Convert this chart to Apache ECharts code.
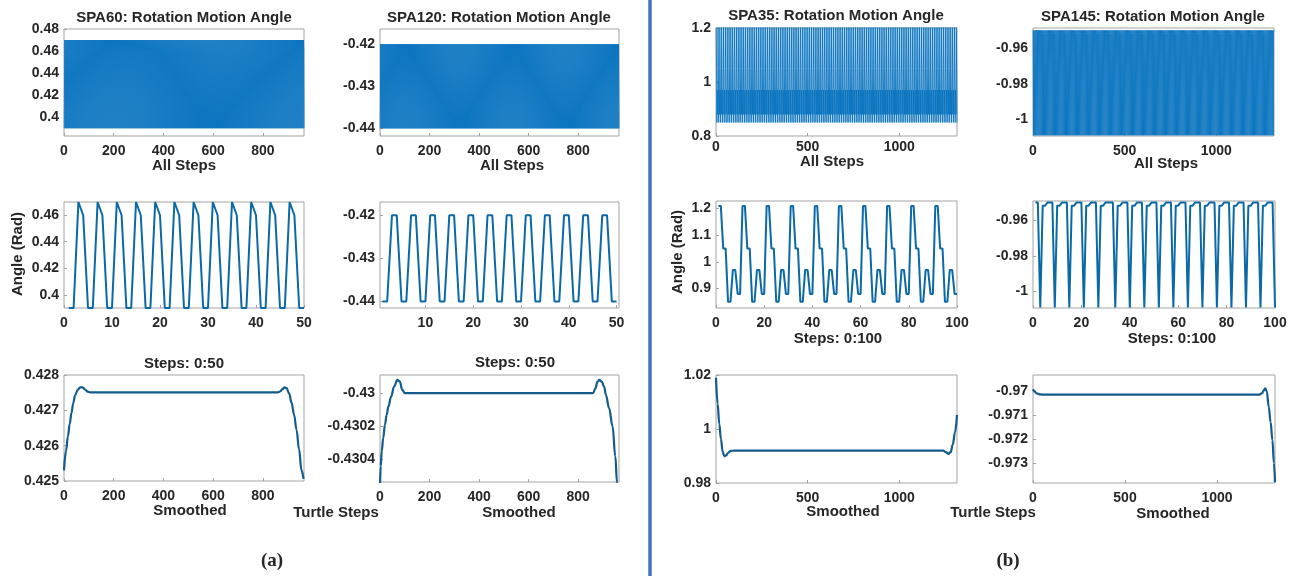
<!DOCTYPE html>
<html><head><meta charset="utf-8">
<script src="https://cdn.jsdelivr.net/npm/echarts@6/dist/echarts.min.js"></script>
<style>html,body{margin:0;padding:0;background:#fff}#c{width:1299px;height:576px}</style>
</head><body><div id="c"></div>
<script>
// ---------------- DATA ----------------
// one gait cycle of each joint angle (read from the zoomed step windows)
const spa60Cycle  = [0.39, 0.39, 0.47, 0.46];
const spa120Cycle = [-0.44, -0.44, -0.42, -0.42];
const spa35Cycle  = [1.21, 1.21, 1.05, 1.05, 0.85, 0.85, 0.97, 0.97, 0.88, 0.88];
const spa145Cycle = [-0.95, -0.95, -1.009, -0.9518, -0.9518, -0.95];
const stepsA = 965;   // total turtle steps, panel (a)
const stepsB = 1315;  // total turtle steps, panel (b)

// steps 1..50
const spa60Win = [0.39,0.39,0.47,0.46, 0.39,0.39,0.47,0.46, 0.39,0.39,0.47,0.46, 0.39,0.39,0.47,0.46,
  0.39,0.39,0.47,0.46, 0.39,0.39,0.47,0.46, 0.39,0.39,0.47,0.46, 0.39,0.39,0.47,0.46,
  0.39,0.39,0.47,0.46, 0.39,0.39,0.47,0.46, 0.39,0.39,0.47,0.46, 0.39,0.39,0.47,0.46, 0.39,0.39];
const spa120Win = [-0.44,-0.44,-0.42,-0.42, -0.44,-0.44,-0.42,-0.42, -0.44,-0.44,-0.42,-0.42, -0.44,-0.44,-0.42,-0.42,
  -0.44,-0.44,-0.42,-0.42, -0.44,-0.44,-0.42,-0.42, -0.44,-0.44,-0.42,-0.42, -0.44,-0.44,-0.42,-0.42,
  -0.44,-0.44,-0.42,-0.42, -0.44,-0.44,-0.42,-0.42, -0.44,-0.44,-0.42,-0.42, -0.44,-0.44,-0.42,-0.42, -0.44,-0.44];
// steps 1..100
const spa35Win = [1.21,1.21,1.05,1.05,0.85,0.85,0.97,0.97,0.88,0.88, 1.21,1.21,1.05,1.05,0.85,0.85,0.97,0.97,0.88,0.88,
  1.21,1.21,1.05,1.05,0.85,0.85,0.97,0.97,0.88,0.88, 1.21,1.21,1.05,1.05,0.85,0.85,0.97,0.97,0.88,0.88,
  1.21,1.21,1.05,1.05,0.85,0.85,0.97,0.97,0.88,0.88, 1.21,1.21,1.05,1.05,0.85,0.85,0.97,0.97,0.88,0.88,
  1.21,1.21,1.05,1.05,0.85,0.85,0.97,0.97,0.88,0.88, 1.21,1.21,1.05,1.05,0.85,0.85,0.97,0.97,0.88,0.88,
  1.21,1.21,1.05,1.05,0.85,0.85,0.97,0.97,0.88,0.88, 1.21,1.21,1.05,1.05,0.85,0.85,0.97,0.97,0.88,0.88];
const spa145Win = [-0.95,-0.95,-1.009,-0.9518,-0.9518,-0.95,-0.95,-0.95,-1.009,-0.9518,
  -0.9518,-0.95,-0.95,-0.95,-1.009,-0.9518,-0.9518,-0.95,-0.95,-0.95,
  -1.009,-0.9518,-0.9518,-0.95,-0.95,-0.95,-1.009,-0.9518,-0.9518,-0.95,
  -0.95,-0.95,-0.95,-1.009,-0.9518,-0.9518,-0.95,-0.95,-0.95,-1.009,
  -0.9518,-0.9518,-0.95,-0.95,-0.95,-1.009,-0.9518,-0.9518,-0.95,-0.95,
  -0.95,-1.009,-0.9518,-0.9518,-0.95,-0.95,-0.95,-1.009,-0.9518,-0.9518,
  -0.95,-0.95,-0.95,-1.009,-0.9518,-0.9518,-0.95,-0.95,-0.95,-1.009,
  -0.9518,-0.9518,-0.95,-0.95,-0.95,-1.009,-0.9518,-0.9518,-0.95,-0.95,
  -0.95,-1.009,-0.9518,-0.9518,-0.95,-0.95,-0.95,-1.009,-0.9518,-0.9518,
  -0.95,-0.95,-0.95,-1.009,-0.9518,-0.9518,-0.95,-0.95,-0.95,-1.009];

// smoothed curves
const spa60SmX  = [0, 8, 16, 23, 30, 37, 45, 55, 65, 75, 85, 95, 105, 860, 870, 878, 887, 895, 905, 915, 925, 935, 945, 955, 963];
const spa60SmY  = [0.4253, 0.42585, 0.42627, 0.42662, 0.42693, 0.4272, 0.42743, 0.42758, 0.42765, 0.42765, 0.42759, 0.42753, 0.42751,
  0.42751, 0.42754, 0.4276, 0.42765, 0.42763, 0.42748, 0.42722, 0.42688, 0.42645, 0.4259, 0.4253, 0.42506];
const spa120SmX = [0, 3, 7, 13, 20, 27, 34, 45, 57, 70, 80, 90, 100, 860, 870, 878, 886, 895, 905, 912, 925, 939, 950, 957, 963];
const spa120SmY = [-0.43056, -0.43044, -0.43035, -0.43027, -0.43019, -0.43013, -0.43008, -0.43002, -0.42996, -0.42992, -0.42993, -0.42998, -0.43,
  -0.43, -0.42997, -0.42993, -0.42992, -0.42993, -0.42996, -0.43001, -0.43009, -0.4302, -0.43038, -0.43054, -0.43068];
const spa35SmX  = [0, 9, 18, 27, 36, 45, 55, 65, 80, 100, 1240, 1255, 1268, 1280, 1292, 1304, 1315];
const spa35SmY  = [1.019, 1.0093, 1.0018, 0.9963, 0.9917, 0.9899, 0.9902, 0.9911, 0.9919, 0.992,
  0.992, 0.9914, 0.9908, 0.9914, 0.9942, 0.9988, 1.0052];
const spa145SmX = [0, 10, 20, 35, 50, 1230, 1245, 1255, 1262, 1270, 1281, 1291, 1301, 1309, 1315];
const spa145SmY = [-0.96994, -0.97005, -0.97011, -0.97015, -0.97016, -0.97016, -0.9701, -0.96998, -0.9699,
  -0.97002, -0.97066, -0.9713, -0.97205, -0.973, -0.9738];

// tick labels
const xTicksA   = [0, 200, 400, 600, 800];
const xTicksB   = [0, 500, 1000];
const xTicks50  = [0, 10, 20, 30, 40, 50];
const xTicks50b = [10, 20, 30, 40, 50];
const xTicks100 = [0, 20, 40, 60, 80, 100];
const yT_spa60All  = [0.4, 0.42, 0.44, 0.46, 0.48];
const yT_spa120    = [-0.44, -0.43, -0.42];
const yT_spa60Win  = [0.4, 0.42, 0.44, 0.46];
const yT_spa60Sm   = [0.425, 0.426, 0.427, 0.428];
const yT_spa120Sm  = [-0.4304, -0.4302, -0.43];
const yT_spa35All  = [0.8, 1, 1.2];
const yT_spa145    = [-1, -0.98, -0.96];
const yT_spa35Win  = [0.9, 1, 1.1, 1.2];
const yT_spa35Sm   = [0.98, 1, 1.02];
const yT_spa145Sm  = [-0.973, -0.972, -0.971, -0.97];

// ---------------- BUILD ----------------
function tile(cycle, n) { const out = []; for (let i = 1; i <= n; i++) out.push([i, cycle[(i - 1) % cycle.length]]); return out; }
function fromOne(arr) { return arr.map((v, i) => [i + 1, v]); }
function zipXY(xs, ys) { return xs.map((x, i) => [x, ys[i]]); }

const FONT = '"Liberation Sans", Arial, sans-serif';
const TXT = '#262626';
const BOX = '#a3a3a3';
const grids = [], xAxes = [], yAxes = [], series = [];

function panel(p) {
  const i = grids.length;
  grids.push({ left: p.g[0], top: p.g[1], width: p.g[2], height: p.g[3], show: true, borderColor: BOX, borderWidth: 1, backgroundColor: '#fff' });
  const lab = (vals, margin) => ({ customValues: vals, margin: margin, color: TXT, fontFamily: FONT, fontWeight: 'bold', fontSize: 14, formatter: v => String(v) });
  const tick = vals => ({ show: true, inside: true, length: 3, customValues: vals, lineStyle: { color: BOX } });
  xAxes.push({ type: 'value', gridIndex: i, min: p.xr[0], max: p.xr[1], axisLine: { show: false }, splitLine: { show: false },
    axisTick: tick(p.xt), axisLabel: lab(p.xt, p.xm == null ? 8 : p.xm) });
  yAxes.push({ type: 'value', gridIndex: i, min: p.yr[0], max: p.yr[1], axisLine: { show: false }, splitLine: { show: false },
    axisTick: tick(p.yt), axisLabel: lab(p.yt, 5) });
  series.push({ type: 'line', xAxisIndex: i, yAxisIndex: i, data: p.data, symbol: 'none', showSymbol: false, silent: true,
    animation: false, clip: true, smooth: p.smooth || false, smoothMonotone: p.smooth ? 'x' : undefined,
    lineStyle: { color: p.color, width: p.w } });
}

const DENSE = '#0a74c0', WIN = '#0b6aa6', SM = '#125b8c';
panel({ g: [64, 29, 240, 107],  xr: [0, stepsA], yr: [0.383, 0.48],        xt: xTicksA, yt: yT_spa60All, data: tile(spa60Cycle, stepsA), color: DENSE, w: 0.9 });
panel({ g: [380, 29, 239, 107], xr: [0, stepsA], yr: [-0.4418, -0.4164],   xt: xTicksA, yt: yT_spa120,   data: tile(spa120Cycle, stepsA), color: DENSE, w: 0.9 });
panel({ g: [64, 202, 240, 106], xr: [0, 50],     yr: [0.39, 0.47],         xt: xTicks50, yt: yT_spa60Win, data: fromOne(spa60Win), color: WIN, w: 2 });
panel({ g: [380, 202, 239, 106],xr: [0.5, 50.5], yr: [-0.4415, -0.4169],   xt: xTicks50b, yt: yT_spa120,  data: fromOne(spa120Win), color: WIN, w: 2 });
panel({ g: [64, 375, 240, 106], xr: [0, stepsA], yr: [0.425, 0.428],       xt: xTicksA, yt: yT_spa60Sm,  data: zipXY(spa60SmX, spa60SmY), color: SM, w: 2.2, smooth: 0.4 });
panel({ g: [380, 375, 239, 107],xr: [0, stepsA], yr: [-0.430536, -0.42989],xt: xTicksA, yt: yT_spa120Sm, data: zipXY(spa120SmX, spa120SmY), color: SM, w: 2.2, smooth: 0.4 });

panel({ g: [716, 28, 241, 108], xr: [0, stepsB], yr: [0.8, 1.2],          xt: xTicksB, yt: yT_spa35All, data: tile(spa35Cycle, stepsB), color: DENSE, w: 0.9, xm: 4 });
panel({ g: [1033, 28, 241, 108],xr: [0, stepsB], yr: [-1.0094, -0.9487],  xt: xTicksB, yt: yT_spa145,   data: tile(spa145Cycle, stepsB), color: DENSE, w: 0.9 });
panel({ g: [716, 201, 241, 107],xr: [0, 100],    yr: [0.827, 1.2285],     xt: xTicks100, yt: yT_spa35Win, data: fromOne(spa35Win), color: WIN, w: 2 });
panel({ g: [1033, 201, 242, 107],xr: [0, 100],   yr: [-1.0093, -0.9492],  xt: xTicks100, yt: yT_spa145,   data: fromOne(spa145Win), color: WIN, w: 2 });
panel({ g: [716, 375, 241, 108],xr: [0, stepsB], yr: [0.98, 1.02],        xt: xTicksB, yt: yT_spa35Sm,  data: zipXY(spa35SmX, spa35SmY), color: SM, w: 2.2, smooth: 0.4 });
panel({ g: [1033, 375, 242, 108],xr: [0, stepsB],yr: [-0.97383, -0.96935],xt: xTicksB, yt: yT_spa145Sm, data: zipXY(spa145SmX, spa145SmY), color: SM, w: 2.2, smooth: 0.4 });

function txt(s, x, y, size, rot, fam) {
  return { type: 'text', x: x, y: y, rotation: rot || 0, silent: true,
    style: { text: s, fill: TXT, font: 'bold ' + size + 'px ' + (fam || FONT), align: 'center', verticalAlign: 'middle' } };
}
const graphics = [
  { type: 'line', shape: { x1: 650, y1: 0, x2: 650, y2: 576 }, style: { stroke: '#4472c4', lineWidth: 3.5 }, silent: true },
  txt('SPA60: Rotation Motion Angle', 184, 18, 15),
  txt('SPA120: Rotation Motion Angle', 499, 18, 15),
  txt('SPA35: Rotation Motion Angle', 836, 16, 15),
  txt('SPA145: Rotation Motion Angle', 1153, 17, 15),
  txt('All Steps', 184, 166, 15),
  txt('All Steps', 512, 166, 15),
  txt('All Steps', 832, 162, 15),
  txt('All Steps', 1166, 164, 15),
  txt('Angle (Rad)', 18, 254, 15, Math.PI / 2),
  txt('Angle (Rad)', 678, 252, 15, Math.PI / 2),
  txt('Steps: 0:50', 184, 364, 15),
  txt('Steps: 0:50', 515, 363, 15),
  txt('Steps: 0:100', 838, 339, 15),
  txt('Steps: 0:100', 1172, 339, 15),
  txt('Smoothed', 190, 511, 15),
  txt('Smoothed', 519, 513, 15),
  txt('Smoothed', 843, 512, 15),
  txt('Smoothed', 1173, 514, 15),
  txt('Turtle Steps', 336, 513, 15),
  txt('Turtle Steps', 993, 513, 15),
  txt('(a)', 272, 561, 19, 0, '"Liberation Serif", "Times New Roman", serif'),
  txt('(b)', 1008, 561, 19, 0, '"Liberation Serif", "Times New Roman", serif')
];

const chart = echarts.init(document.getElementById('c'), null, { renderer: 'canvas' });
chart.setOption({ backgroundColor: '#fff', animation: false, grid: grids, xAxis: xAxes, yAxis: yAxes, series: series, graphic: graphics });
</script></body></html>
